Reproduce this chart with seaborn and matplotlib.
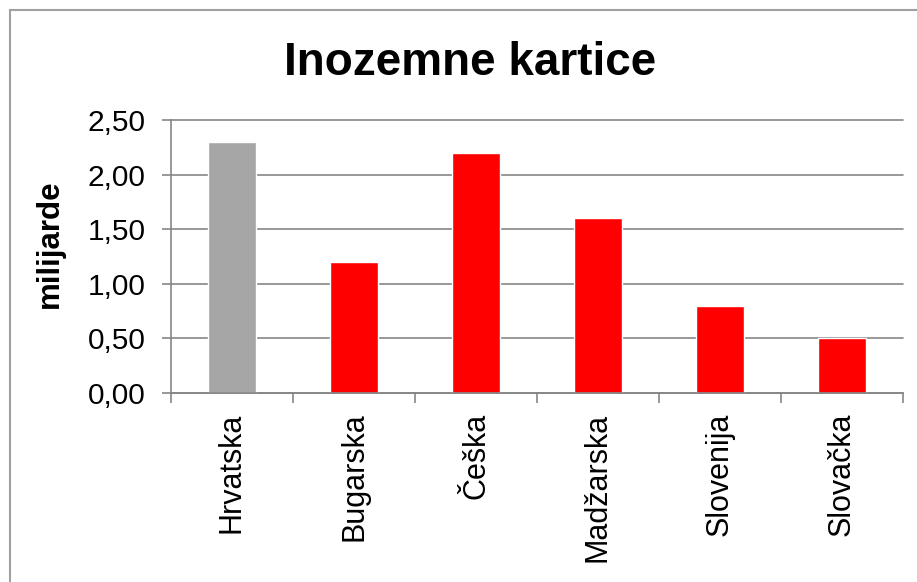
import pandas as pd
import matplotlib
matplotlib.use("Agg")
import matplotlib.pyplot as plt
import matplotlib.patches as mpatches
from matplotlib.ticker import FuncFormatter, FixedLocator
import seaborn as sns

# Data
countries = ["Hrvatska", "Bugarska", "Češka", "Madžarska", "Slovenija", "Slovačka"]
values = [2.30, 1.20, 2.20, 1.60, 0.80, 0.50]
bar_colors = ["#A6A6A6", "#FF0000", "#FF0000", "#FF0000", "#FF0000", "#FF0000"]
y_ticks = [0.0, 0.5, 1.0, 1.5, 2.0, 2.5]

df = pd.DataFrame({"Zemlja": countries, "Iznos": values})

sns.set_style("white")
plt.rcParams["font.family"] = ["Liberation Sans", "DejaVu Sans"]
plt.rcParams["text.color"] = "black"
plt.rcParams["xtick.labelcolor"] = "black"
plt.rcParams["ytick.labelcolor"] = "black"

axis_grey = "#868686"

fig = plt.figure(figsize=(9.17, 5.82), dpi=100)
ax = fig.add_axes([171 / 917, 1 - 393 / 582, (903 - 171) / 917, (393 - 120) / 582])

sns.barplot(data=df, x="Zemlja", y="Iznos", hue="Zemlja", palette=bar_colors,
            width=0.4, legend=False, ax=ax, saturation=1)

ax.set_ylim(0, 2.5)
ax.set_xlim(-0.5, len(countries) - 0.5)
ax.set_yticks(y_ticks)
ax.yaxis.set_major_formatter(FuncFormatter(lambda v, p: f"{v:.2f}".replace(".", ",")))
ax.set_xlabel("")
ax.set_ylabel("")

# grid lines
ax.set_axisbelow(True)
ax.yaxis.grid(True, color=axis_grey, linewidth=1.2)
for gl in ax.get_ygridlines():
    gl.set_clip_on(False)

for side in ["top", "right"]:
    ax.spines[side].set_visible(False)
for side in ["left", "bottom"]:
    ax.spines[side].set_color(axis_grey)
    ax.spines[side].set_linewidth(1.2)

ax.tick_params(axis="y", which="major", direction="out", length=6.5, width=1.2,
               color=axis_grey, labelsize=21.5, pad=12, left=True, labelcolor="black")
ax.tick_params(axis="x", which="major", length=0, labelsize=22, pad=14, labelcolor="black")
ax.xaxis.set_minor_locator(FixedLocator([i - 0.5 for i in range(len(countries) + 1)]))
ax.tick_params(axis="x", which="minor", direction="out", length=7, width=1.2,
               color=axis_grey, bottom=True)
plt.setp(ax.get_xticklabels(), rotation=90, ha="center", va="top")

fig.text(470 / 917, 1 - 75 / 582, "Inozemne kartice", fontsize=33, fontweight="bold",
         ha="center", va="baseline", color="black")
fig.text(50 / 917, 1 - 244 / 582, "milijarde", fontsize=22.5, fontweight="bold",
         rotation=90, ha="center", va="center", color="black")

# chart frame (only top and left edges show in the reference)
frame = mpatches.Rectangle((9.5 / 917, -0.1), 1.2, 1 - 9.5 / 582 + 0.1, transform=fig.transFigure,
                           fill=False, edgecolor="#A0A0A0", linewidth=1.5)
fig.patches.append(frame)

fig.savefig("out.png", dpi=100)
